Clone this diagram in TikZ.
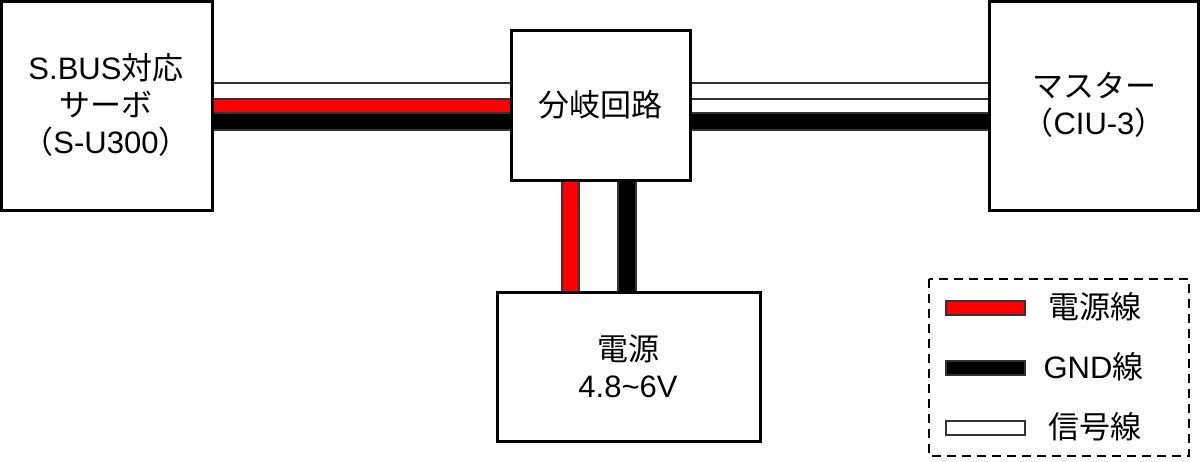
\documentclass[tikz,border=0pt]{standalone}
\usepackage{fontspec}
\setmainfont{Liberation Sans}
\newfontfamily\cjk{Noto Sans CJK JP}
\begin{document}
\begin{tikzpicture}[x=1pt,y=-1pt,
  box/.style={draw=black,line width=3pt,fill=white},
  wire/.style={draw=black!80,line width=1.5pt},
  lbl/.style={font=\fontsize{31}{37}\selectfont,align=center}]
\useasboundingbox (0,0) rectangle (1200,461);
% wires
\draw[wire,fill=white] (212,83) rectangle (511,99);
\draw[wire,fill=red] (212,99) rectangle (511,113);
\draw[wire,fill=black] (212,113) rectangle (511,130);
\draw[wire,fill=white] (690,83) rectangle (989,99);
\draw[wire,fill=white] (690,99) rectangle (989,113);
\draw[wire,fill=black] (690,113) rectangle (989,130);
\draw[wire,fill=red] (562,180) rectangle (579,292);
\draw[wire,fill=black] (618,180) rectangle (636,292);
% boxes
\draw[box] (1.5,1.5) rectangle (212,210);
\node[lbl] (servo) at (106,105) {S.BUS{\cjk 対応}\\{\cjk サーボ}\\{\cjk （}S-U300{\cjk ）}};
\draw[box] (511,30) rectangle (690,180);
\node[lbl] (hub) at (600,105) {\cjk 分岐回路};
\draw[box] (989,1.5) rectangle (1198.5,210);
\node[lbl] (master) at (1094,105) {{\cjk マスター}\\{\cjk （}CIU-3{\cjk ）}};
\draw[box] (497,292) rectangle (760,441);
\node[lbl] (psu) at (628,366) {{\cjk 電源}\\4.8\textasciitilde 6V};
% legend
\draw[line width=2.5pt,dash pattern=on 9pt off 6pt] (929,279) rectangle (1189,456);
\draw[wire,line width=2.5pt,fill=red] (946,301) rectangle (1025,315);
\draw[wire,line width=2.5pt,fill=black] (946,361) rectangle (1025,375);
\draw[wire,line width=2.5pt,fill=white] (946,421) rectangle (1025,435);
\node[lbl,anchor=west] (l1) at (1045,307) {\cjk 電源線};
\node[lbl,anchor=west] (l2) at (1040,367) {GND{\cjk 線}};
\node[lbl,anchor=west] (l3) at (1045,427) {\cjk 信号線};
\end{tikzpicture}
\end{document}
